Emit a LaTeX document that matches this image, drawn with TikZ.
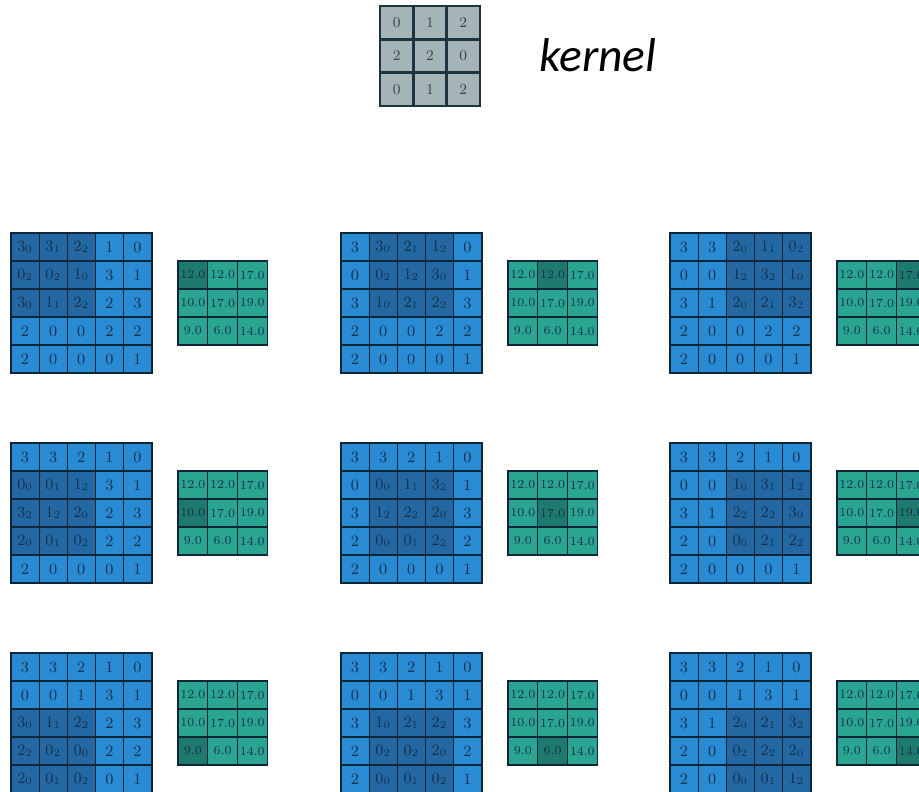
\documentclass[tikz,border=0pt]{standalone}
\usepackage{fontspec}
\newfontfamily\labelfont{Carlito}
\usepackage{tikz}
\definecolor{GridLight}{HTML}{2A8BD5}
\definecolor{GridDark}{HTML}{2368A2}
\definecolor{OutLight}{HTML}{2AA592}
\definecolor{OutDark}{HTML}{1E7A6E}
\definecolor{KernelFill}{HTML}{A5B4B7}
\definecolor{KernelLine}{HTML}{1C3440}
\definecolor{GridLine}{HTML}{0F2538}
\definecolor{DigitInk}{HTML}{15304C}

\begin{document}
\begin{tikzpicture}[x=0.02cm,y=-0.02cm,
  incell/.style={draw=GridLine,line width=0.6pt,fill=GridLight,
    minimum width=0.562cm,minimum height=0.56cm,inner sep=0pt,
    text=DigitInk,font=\fontsize{9}{9}\selectfont},
  winCell/.style={incell,fill=GridDark},
  outcell/.style={draw=GridLine,line width=0.6pt,fill=OutLight,
    minimum width=0.594cm,minimum height=0.56cm,inner sep=0pt,
    text=DigitInk,font=\fontsize{7}{7}\selectfont},
  kercell/.style={draw=KernelLine,line width=1.4pt,fill=KernelFill,
    minimum size=0.666cm,inner sep=0pt,text=black!75,
    font=\fontsize{8.5}{8.5}\selectfont}]
  \useasboundingbox (0,0) rectangle (919,791);

  % kernel
  \foreach \row [count=\r from 0] in {{0,1,2},{2,2,0},{0,1,2}}
    \foreach \v [count=\c from 0] in \row
      \node[kercell] (k-\r-\c) at ({396.65+33.3*\c},{22.65+33.3*\r}) {\v};
  \node[font=\labelfont\itshape\fontsize{27}{27}\selectfont,anchor=base]
    (kernlabel) at (598,71) {kernel};

  % panels: number / left / top / window row / window column
  \foreach \p/\px/\py/\wr/\wc in {1/11/233/0/0,2/341/233/0/1,3/670/233/0/2,
      4/11/443/1/0,5/341/443/1/1,6/670/443/1/2,
      7/11/653/2/0,8/341/653/2/1,9/670/653/2/2} {
    \foreach \row [count=\r from 0] in
        {{3,3,2,1,0},{0,0,1,3,1},{3,1,2,2,3},{2,0,0,2,2},{2,0,0,0,1}} {
      \foreach \v [count=\c from 0] in \row {
        \pgfmathtruncatemacro\inwin{and(and(\r>=\wr,\r<\wr+3),and(\c>=\wc,\c<\wc+3))}
        \ifnum\inwin=1
          \pgfmathtruncatemacro\kv{{0,1,2,2,2,0,0,1,2}[3*(\r-\wr)+\c-\wc]}
          \node[winCell] (in\p-\r-\c) at ({\px+14.05+28.1*\c},{\py+14+28*\r}) {$\v_{\kv}$};
        \else
          \node[incell] (in\p-\r-\c) at ({\px+14.05+28.1*\c},{\py+14+28*\r}) {$\v$};
        \fi
      }
    }
    \draw[GridLine,line width=0.8pt] (in\p-0-0.north west) rectangle (in\p-4-4.south east);
    \foreach \row [count=\r from 0] in {{12.0,12.0,17.0},{10.0,17.0,19.0},{9.0,6.0,14.0}} {
      \foreach \v [count=\c from 0] in \row {
        \pgfmathtruncatemacro\hit{and(\r==\wr,\c==\wc)}
        \ifnum\hit=1
          \node[outcell,fill=OutDark] (out\p-\r-\c) at ({\px+181.85+29.7*\c},{\py+42+28*\r}) {\v};
        \else
          \node[outcell] (out\p-\r-\c) at ({\px+181.85+29.7*\c},{\py+42+28*\r}) {\v};
        \fi
      }
    }
    \draw[GridLine,line width=0.8pt] (out\p-0-0.north west) rectangle (out\p-2-2.south east);
  }
\end{tikzpicture}
\end{document}
